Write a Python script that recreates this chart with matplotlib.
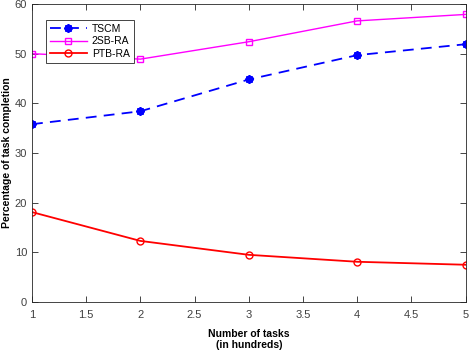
import matplotlib
matplotlib.use("Agg")
import matplotlib.pyplot as plt

plt.rcParams['font.family'] = ['Liberation Sans', 'DejaVu Sans']

tasks = [1, 2, 3, 4, 5]
tscm = [35.8, 38.4, 44.8, 49.7, 51.9]
sb2_ra = [50.0, 48.9, 52.4, 56.6, 57.9]
ptb_ra = [18.1, 12.3, 9.5, 8.1, 7.5]
xticks = [1, 1.5, 2, 2.5, 3, 3.5, 4, 4.5, 5]
yticks = [0, 10, 20, 30, 40, 50, 60]

fig = plt.figure(figsize=(4.71, 3.51), dpi=100)
ax = fig.add_axes([32/471, 1 - 302/351, (465.5-32)/471, (302-4)/351])

ax.plot(tasks, tscm, color='#0000ff', linestyle=(0, (6, 4)), linewidth=1.3,
        marker=(8, 2, 0), markersize=6, markeredgewidth=1.4, label='TSCM')
ax.plot(tasks, sb2_ra, color='#ff00ff', linewidth=1.0, marker='s', markersize=5,
        markerfacecolor='none', label='2SB-RA')
ax.plot(tasks, ptb_ra, color='#ff0000', linewidth=1.3, marker='o', markersize=5,
        markerfacecolor='none', label='PTB-RA')

ax.set_xlim(1, 5)
ax.set_ylim(0, 60)
ax.set_xticks(xticks)
ax.set_xticklabels([f'{t:g}' for t in xticks])
ax.set_yticks(yticks)
ax.tick_params(direction='in', top=True, right=True, length=4, width=0.6,
               labelsize=8, colors='#262626', labelcolor='#404040')
ax.tick_params(axis='x', pad=6)
for s in ax.spines.values():
    s.set_color('#262626')
    s.set_linewidth(0.6)

ax.set_xlabel('Number of tasks\n(in hundreds)', fontsize=7.5, fontweight='bold', labelpad=6)
ax.set_ylabel('Percentage of task completion', fontsize=7.5, fontweight='bold')
ax.yaxis.set_label_coords(-(32 - 12) / (465.5 - 32), 0.5)

leg = ax.legend(loc='upper left', bbox_to_anchor=(0.02, 0.965), fontsize=7.5,
                fancybox=False, edgecolor='#262626', framealpha=1,
                handlelength=3.5, borderpad=0.4, labelspacing=0.25, handletextpad=0.5)
leg.get_frame().set_linewidth(0.6)

fig.savefig('out.png', dpi=100)
